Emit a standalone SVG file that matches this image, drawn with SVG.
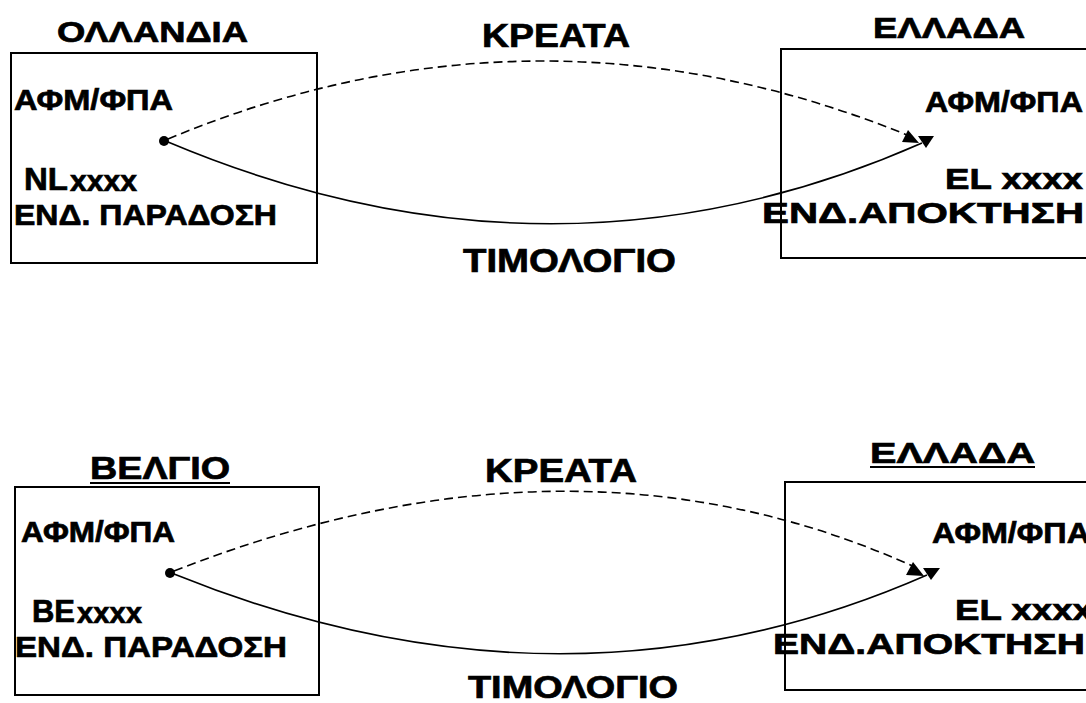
<svg xmlns="http://www.w3.org/2000/svg" width="1086" height="703" viewBox="0 0 1086 703">
<defs>
<style>
text{font-family:"Liberation Sans",Arial,sans-serif;font-weight:bold;fill:#000;stroke:#000;stroke-width:0.7}
.box{fill:none;stroke:#000;stroke-width:2}
.dash{fill:none;stroke:#000;stroke-width:1.6;stroke-dasharray:9 5}
.solid{fill:none;stroke:#000;stroke-width:1.6}
.ul{stroke:#000;stroke-width:2}
</style>
</defs>
<rect width="1086" height="703" fill="#fff"/>

<g id="top-netherlands">
<text x="57" y="42" font-size="30" textLength="191" lengthAdjust="spacingAndGlyphs">ΟΛΛΑΝΔΙΑ</text>
<rect class="box" x="11" y="53" width="306" height="210"/>
<text x="14" y="110" font-size="29" textLength="159" lengthAdjust="spacingAndGlyphs">ΑΦΜ/ΦΠΑ</text>
<text x="24" y="190" font-size="32" textLength="44" lengthAdjust="spacingAndGlyphs">NL</text>
<text x="70" y="191" font-size="30" textLength="67" lengthAdjust="spacingAndGlyphs">xxxx</text>
<text x="14" y="225" font-size="30" textLength="263" lengthAdjust="spacingAndGlyphs">ΕΝΔ. ΠΑΡΑΔΟΣΗ</text>
<circle cx="164" cy="141" r="5"/>
</g>

<g id="top-greece">
<text x="873" y="38" font-size="30" textLength="152" lengthAdjust="spacingAndGlyphs">ΕΛΛΑΔΑ</text>
<rect class="box" x="781" y="49" width="330" height="209"/>
<text x="925" y="112" font-size="29" textLength="158" lengthAdjust="spacingAndGlyphs">ΑΦΜ/ΦΠΑ</text>
<text x="945" y="189" font-size="30" textLength="138" lengthAdjust="spacingAndGlyphs">EL xxxx</text>
<text x="762" y="223" font-size="30" textLength="322" lengthAdjust="spacingAndGlyphs">ΕΝΔ.ΑΠΟΚΤΗΣΗ</text>
</g>

<g id="top-labels">
<text x="482" y="47" font-size="33" textLength="148" lengthAdjust="spacingAndGlyphs">ΚΡΕΑΤΑ</text>
<text x="463" y="272" font-size="33" textLength="213" lengthAdjust="spacingAndGlyphs">ΤΙΜΟΛΟΓΙΟ</text>
</g>

<g id="bottom-belgium">
<text x="90" y="479" font-size="32" textLength="140" lengthAdjust="spacingAndGlyphs">ΒΕΛΓΙΟ</text>
<line class="ul" x1="90" y1="483" x2="230" y2="483"/>
<rect class="box" x="15" y="487" width="304" height="208"/>
<text x="21" y="542" font-size="29" textLength="154" lengthAdjust="spacingAndGlyphs">ΑΦΜ/ΦΠΑ</text>
<text x="32" y="622" font-size="32" textLength="43" lengthAdjust="spacingAndGlyphs">BE</text>
<text x="77" y="623" font-size="30" textLength="65" lengthAdjust="spacingAndGlyphs">xxxx</text>
<text x="15" y="657" font-size="30" textLength="272" lengthAdjust="spacingAndGlyphs">ΕΝΔ. ΠΑΡΑΔΟΣΗ</text>
<circle cx="170" cy="573" r="5"/>
</g>

<g id="bottom-greece">
<text x="870" y="463" font-size="30" textLength="165" lengthAdjust="spacingAndGlyphs">ΕΛΛΑΔΑ</text>
<line class="ul" x1="870" y1="467" x2="1035" y2="467"/>
<rect class="box" x="785" y="482" width="330" height="208"/>
<text x="932" y="543" font-size="29" textLength="158" lengthAdjust="spacingAndGlyphs">ΑΦΜ/ΦΠΑ</text>
<text x="955" y="620" font-size="30" textLength="138" lengthAdjust="spacingAndGlyphs">EL xxxx</text>
<text x="773" y="654" font-size="30" textLength="312" lengthAdjust="spacingAndGlyphs">ΕΝΔ.ΑΠΟΚΤΗΣΗ</text>
</g>

<g id="bottom-labels">
<text x="485" y="482" font-size="33" textLength="152" lengthAdjust="spacingAndGlyphs">ΚΡΕΑΤΑ</text>
<text x="468" y="698" font-size="32" textLength="210" lengthAdjust="spacingAndGlyphs">ΤΙΜΟΛΟΓΙΟ</text>
</g>

<g id="connectors">
<path class="dash" d="M168,139 Q540,-16 912,137"/>
<path class="solid" d="M168,142 Q555,305 922,143"/>
<polygon points="908,130 902,142 919,143"/>
<polygon points="918,136 934,136 926,148"/>
<path class="dash" d="M174,571 Q577,413 917,568"/>
<path class="solid" d="M174,574 Q567,733 927,575"/>
<polygon points="913,562 906,575 924,576"/>
<polygon points="923,568 940,568 931,580"/>
</g>
</svg>
